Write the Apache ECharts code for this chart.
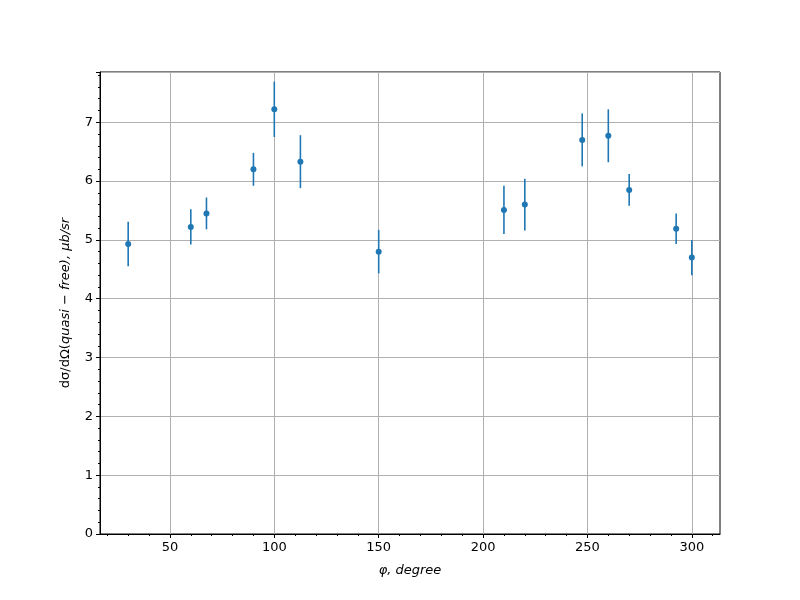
<!DOCTYPE html>
<html>
<head>
<meta charset="utf-8">
<script src="https://cdn.jsdelivr.net/npm/echarts@6/dist/echarts.min.js"></script>
<style>html,body{margin:0;padding:0;background:#fff}#c{width:800px;height:600px}</style>
</head>
<body>
<div id="c"></div>
<script>
var phi = [30, 60, 67.5, 90, 100, 112.5, 150, 210, 220, 247.5, 260, 270, 292.5, 300];
var values = [4.93, 5.22, 5.45, 6.20, 7.22, 6.33, 4.80, 5.51, 5.60, 6.70, 6.77, 5.85, 5.19, 4.70];
var errors = [0.38, 0.30, 0.27, 0.28, 0.47, 0.45, 0.37, 0.41, 0.44, 0.45, 0.45, 0.27, 0.26, 0.30];
var xTicks = [50, 100, 150, 200, 250, 300];
var xMinorTicks = [20, 30, 40, 60, 70, 80, 90, 110, 120, 130, 140, 160, 170, 180, 190, 210, 220, 230, 240, 260, 270, 280, 290, 310];

var COLOR = '#1f77b4';
var FONT = 'DejaVu Sans';

// matplotlib-like autoscale (5% margins), y bottom fixed at 0
var xLo = Math.min.apply(null, phi), xHi = Math.max.apply(null, phi);
var xMin = xLo - 0.05 * (xHi - xLo), xMax = xHi + 0.05 * (xHi - xLo);
var tops = values.map(function (v, i) { return v + errors[i]; });
var bots = values.map(function (v, i) { return v - errors[i]; });
var yTop = Math.max.apply(null, tops), yBot = Math.min.apply(null, bots);
var yMax = yTop + 0.05 * (yTop - yBot);

var pts = phi.map(function (x, i) { return [x, values[i]]; });
var bars = phi.map(function (x, i) { return [x, values[i] - errors[i], values[i] + errors[i]]; });

var chart = echarts.init(document.getElementById('c'), null, {renderer: 'canvas'});
chart.setOption({
  animation: false,
  backgroundColor: '#fff',
  grid: {left: 100, right: 80, top: 72, bottom: 66, show: true, borderColor: '#000', borderWidth: 1, backgroundColor: 'transparent', containLabel: false},
  xAxis: [{
    type: 'value', min: xMin, max: xMax,
    name: 'φ, degree', nameLocation: 'middle', nameGap: 30,
    nameTextStyle: {fontFamily: FONT, fontSize: 13, fontStyle: 'italic', color: '#000'},
    axisLine: {show: true, onZero: false, lineStyle: {color: '#000', width: 1}},
    axisTick: {show: true, inside: false, length: 4, customValues: xTicks, lineStyle: {color: '#000', width: 1}},
    minorTick: {show: false},
    axisLabel: {fontFamily: FONT, fontSize: 13, color: '#000', margin: 7, customValues: xTicks},
    splitLine: {show: false}
  }, {
    type: 'value', min: xMin, max: xMax, position: 'bottom', offset: 0,
    axisLine: {show: false, onZero: false},
    axisTick: {show: true, inside: false, length: 2, customValues: xMinorTicks, lineStyle: {color: '#000', width: 1}},
    axisLabel: {show: false},
    splitLine: {show: false}
  }],
  yAxis: {
    type: 'value', min: 0, max: yMax, interval: 1,
    name: '{n|dσ/dΩ(}{i|quasi − free), μb/sr}', nameLocation: 'middle', nameGap: 28, nameRotate: 90,
    nameTextStyle: {fontFamily: FONT, fontSize: 13, color: '#000',
      rich: {n: {fontFamily: FONT, fontSize: 13, color: '#000'}, i: {fontFamily: FONT, fontSize: 13, fontStyle: 'italic', color: '#000'}}},
    axisLine: {show: true, onZero: false, lineStyle: {color: '#000', width: 1}},
    axisTick: {show: true, inside: false, length: 4, lineStyle: {color: '#000', width: 1}},
    minorTick: {show: true, splitNumber: 5, length: 2, lineStyle: {color: '#000', width: 1}},
    axisLabel: {fontFamily: FONT, fontSize: 13, color: '#000', margin: 7, showMaxLabel: false},
    splitLine: {show: true, lineStyle: {color: '#b0b0b0', width: 1}}
  },
  series: [
    {
      type: 'line', data: [], z: 1, silent: true,
      markLine: {
        z: 1, silent: true, symbol: ['none', 'none'], label: {show: false}, animation: false,
        lineStyle: {color: '#b0b0b0', width: 1, type: 'solid'},
        data: xTicks.map(function (t) { return {xAxis: t}; })
      }
    },
    {
      type: 'custom',
      data: bars,
      encode: {x: 0, y: [1, 2]},
      z: 8,
      renderItem: function (params, api) {
        var x = api.value(0);
        var a = api.coord([x, api.value(1)]);
        var b = api.coord([x, api.value(2)]);
        return {type: 'line', shape: {x1: a[0], y1: a[1], x2: b[0], y2: b[1]},
          style: {stroke: COLOR, lineWidth: 1.6}};
      }
    },
    {
      type: 'scatter', data: pts, symbol: 'circle', symbolSize: 6, z: 9,
      itemStyle: {color: COLOR, opacity: 1}
    }
  ]
});
</script>
</body>
</html>
